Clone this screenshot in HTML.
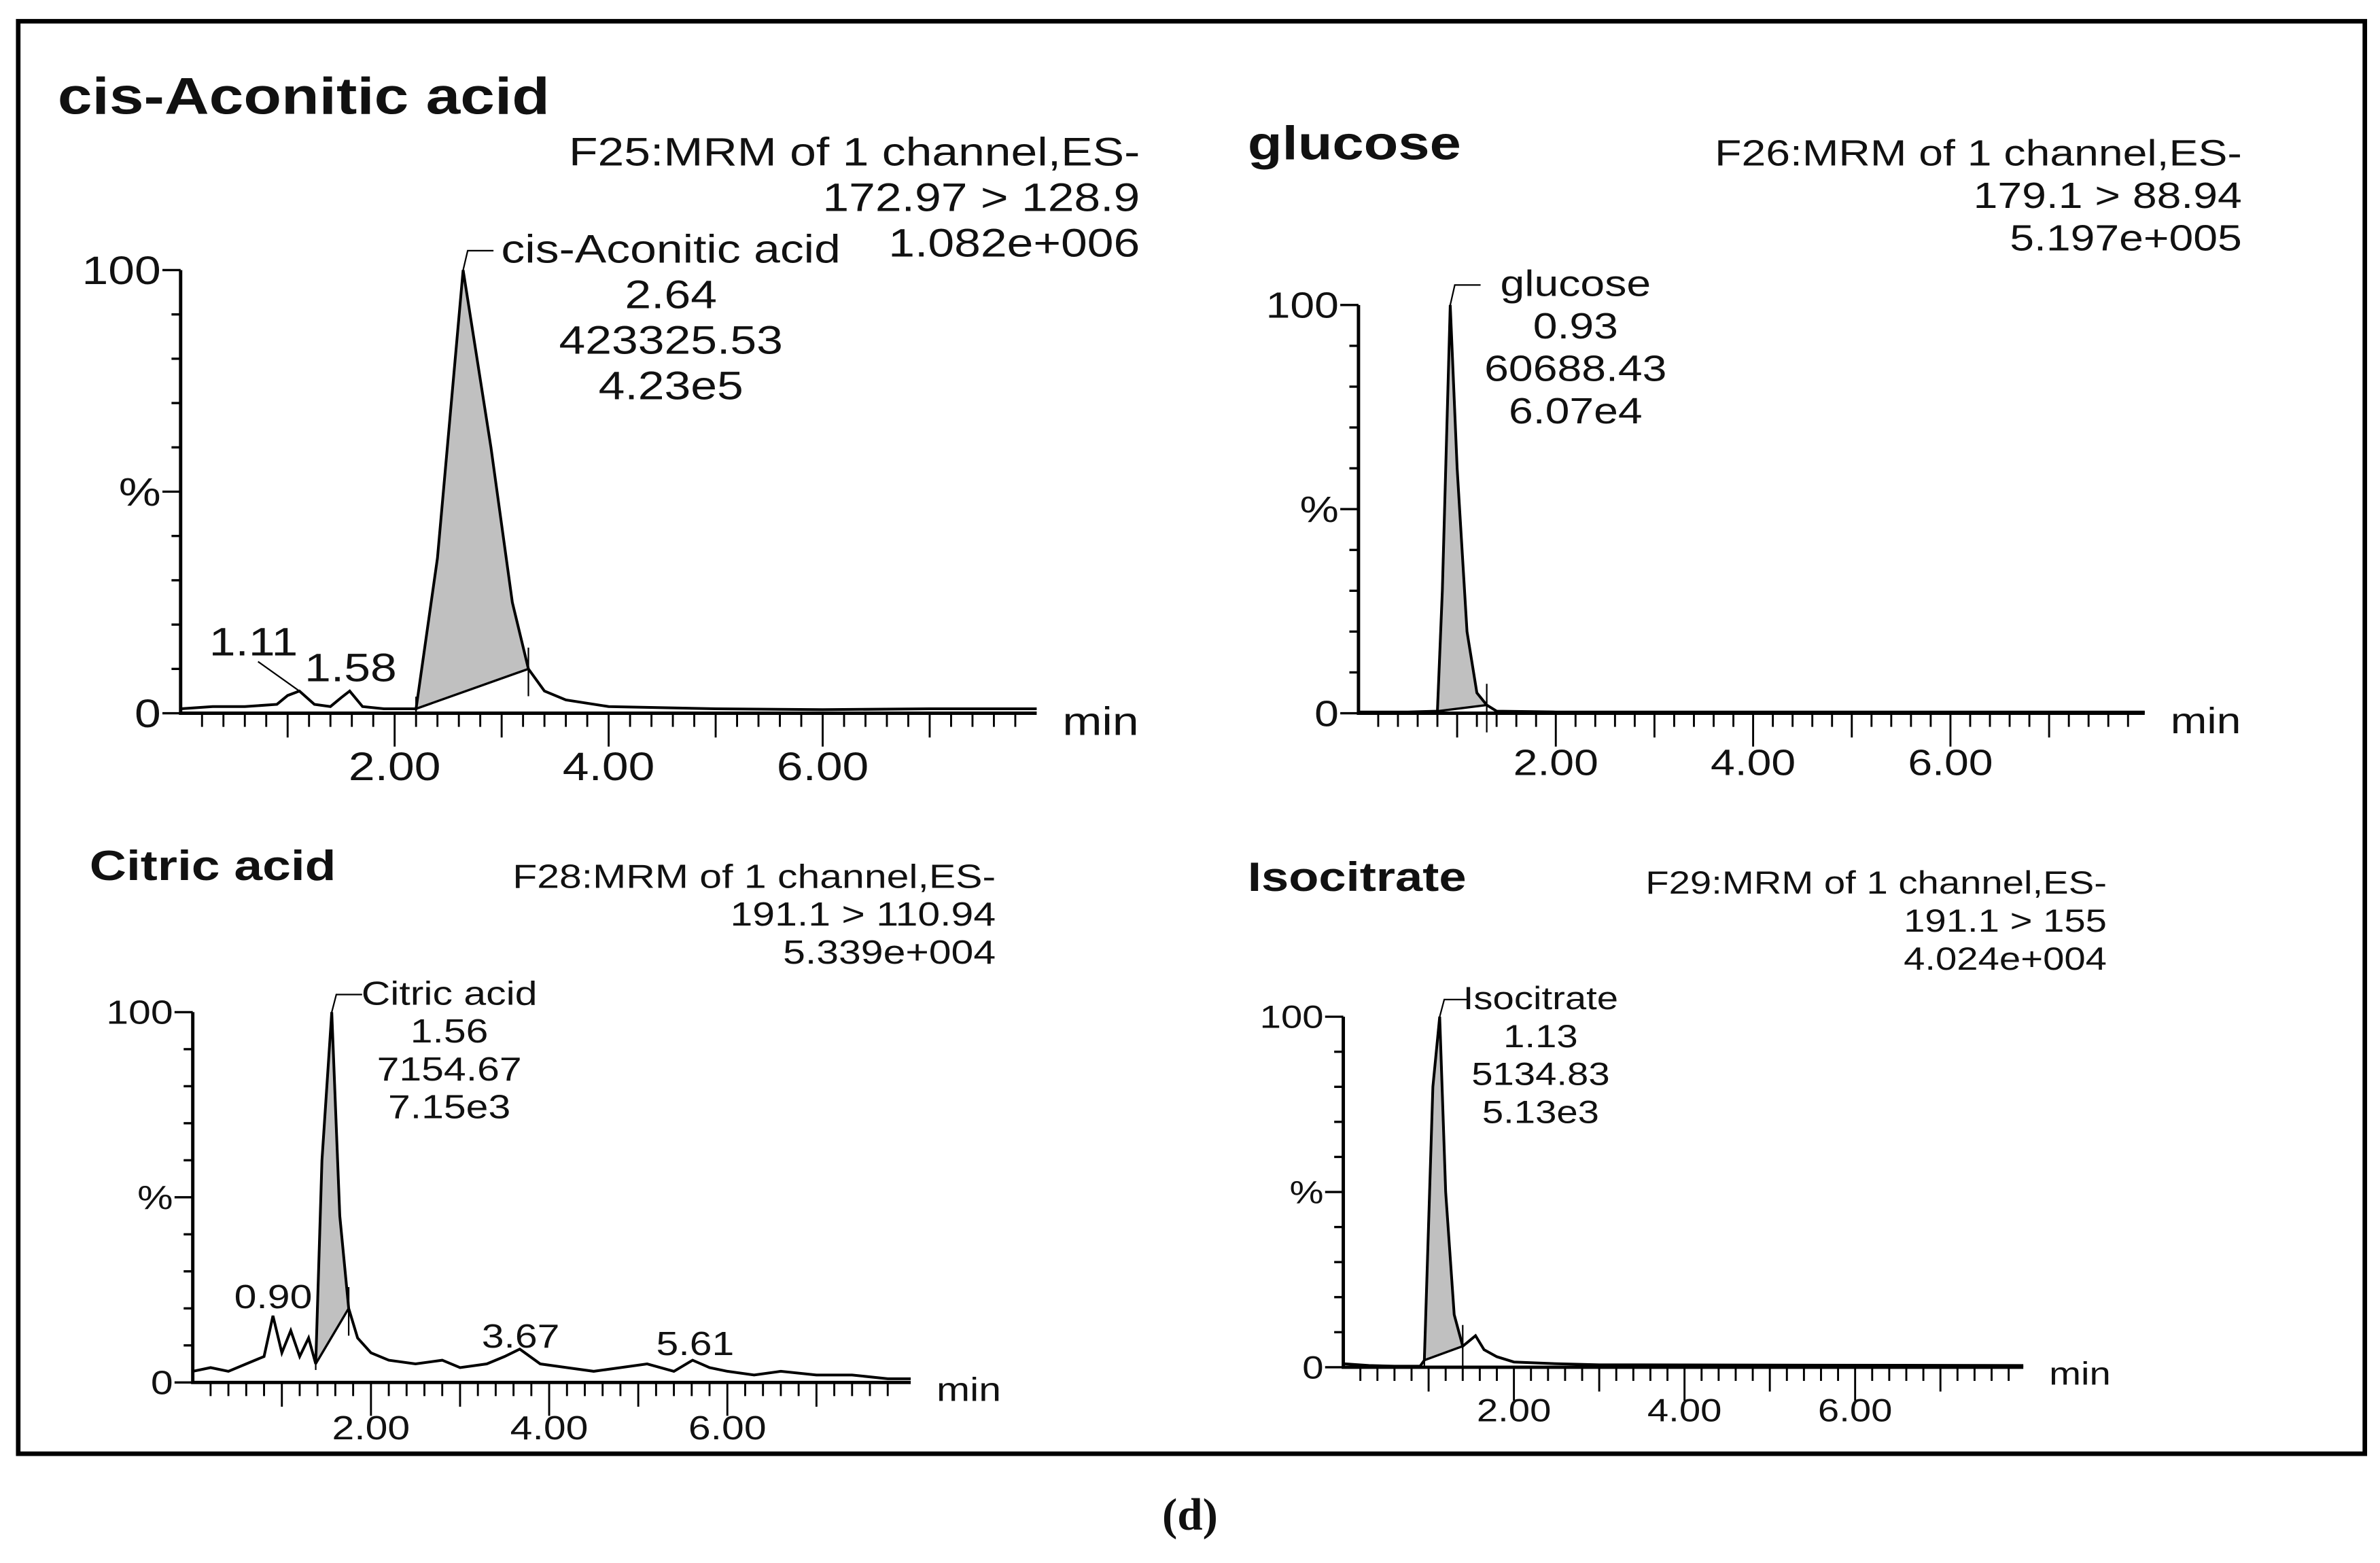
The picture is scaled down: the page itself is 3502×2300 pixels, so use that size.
<!DOCTYPE html>
<html><head><meta charset="utf-8"><style>
html,body{margin:0;padding:0;background:#fff;}
svg{display:block;}
text{font-family:"Liberation Sans",Arial,sans-serif;fill:#111;}
</style></head><body>
<svg id="fig" width="3502" height="2300" viewBox="0 0 1568 1030" preserveAspectRatio="none" xmlns="http://www.w3.org/2000/svg">
<rect x="12" y="14" width="1546" height="944" fill="none" stroke="#000" stroke-width="3"/>
<text x="784" y="1008" text-anchor="middle" style="font-family:'Liberation Serif',serif;font-weight:bold;font-size:30px">(d)</text>
<g id="panels"></g>
</svg>
<script>
// Panel 1: cis-Aconitic acid
const p1Times=[0,0.3,0.6,0.9,1.0,1.11,1.25,1.4,1.5,1.58,1.7,1.9,2.2,2.4,2.64,2.9,3.1,3.25,3.4,3.6,4,5,6,7,8];
const p1Values=[1,1.5,1.5,2,4,5,2,1.5,3.5,5,1.5,1,1,35,100,60,25,10,5,3,1.5,1,0.8,1,1];
// Panel 2: glucose
const p2Times=[0,0.5,0.8,0.85,0.93,1.0,1.1,1.2,1.3,1.4,2,8];
const p2Values=[0.3,0.3,0.5,30,100,60,20,5,2,0.5,0.3,0.3];
// Panel 3: Citric acid
const p3Times=[0,0.2,0.4,0.6,0.8,0.9,1.0,1.1,1.2,1.3,1.38,1.45,1.56,1.65,1.75,1.85,2.0,2.2,2.5,2.8,3.0,3.3,3.5,3.67,3.9,4.2,4.5,4.8,5.1,5.4,5.61,5.8,6.0,6.3,6.6,7.0,7.4,7.8,8.1];
const p3Values=[3,4,3,5,7,18,8,14,7,12,5,60,100,45,20,12,8,6,5,6,4,5,7,9,5,4,3,4,5,3,6,4,3,2,3,2,2,1,1];
// Panel 4: Isocitrate
const p4Times=[0,0.3,0.6,0.9,0.95,1.05,1.13,1.2,1.3,1.4,1.5,1.55,1.65,1.8,2.0,2.5,3,8];
const p4Values=[1,0.5,0.3,0.3,2,80,100,50,15,6,8,9,5,3,1.5,1,0.7,0.5];
const xTickLabels=["2.00","4.00","6.00"];
const xTickValues=[2,4,6];

const SX=1.2;
const panels=[
 {name:'cis-aconitic',title:'cis-Aconitic acid',tx:38,ty:75,tfs:34,x0:119,ppm:70.5,xEnd:683,yTop:178,yBot:470,
  t:p1Times,v:p1Values,shade:[2.2,3.25],fs:26,lh:30,
  info:['F25:MRM of 1 channel,ES-','172.97 > 128.9','1.082e+006'],infoX:751,infoY:139,
  peak:['cis-Aconitic acid','2.64','423325.53','4.23e5'],peakX:442,peakY:173,peakT:2.64,
  small:[['1.11',167,432,1.11,5],['1.58',231,449,null,0]]},
 {name:'glucose',title:'glucose',tx:822,ty:105,tfs:31,x0:895,ppm:65,xEnd:1413,yTop:201,yBot:470,
  t:p2Times,v:p2Values,shade:[0.8,1.3],fs:24,lh:28,
  info:['F26:MRM of 1 channel,ES-','179.1 > 88.94','5.197e+005'],infoX:1477,infoY:137,
  peak:['glucose','0.93','60688.43','6.07e4'],peakX:1038,peakY:195,peakT:0.93,small:[]},
 {name:'citric-acid',title:'Citric acid',tx:59,ty:580,tfs:28,x0:127,ppm:58.7,xEnd:600,yTop:667,yBot:911,
  t:p3Times,v:p3Values,shade:[1.38,1.75],fs:22,lh:25,
  info:['F28:MRM of 1 channel,ES-','191.1 > 110.94','5.339e+004'],infoX:656,infoY:610,
  peak:['Citric acid','1.56','7154.67','7.15e3'],peakX:296,peakY:662,peakT:1.56,
  small:[['0.90',180,862,null,0],['3.67',343,888,null,0],['5.61',458,893,null,0]]},
 {name:'isocitrate',title:'Isocitrate',tx:822,ty:587,tfs:27,x0:885,ppm:56.2,xEnd:1333,yTop:670,yBot:901,
  t:p4Times,v:p4Values,shade:[0.95,1.4],fs:21,lh:25,
  info:['F29:MRM of 1 channel,ES-','191.1 > 155','4.024e+004'],infoX:1388,infoY:614,
  peak:['Isocitrate','1.13','5134.83','5.13e3'],peakX:1015,peakY:665,peakT:1.13,small:[]}
];
const NS='http://www.w3.org/2000/svg';
const root=document.getElementById('panels');
function mk(tag,attrs,parent){const e=document.createElementNS(NS,tag);for(const k in attrs)e.setAttribute(k,attrs[k]);parent.appendChild(e);return e;}
function txt(s,x,y,fs,anchor,parent,weight){const e=mk('text',{x:0,y:0,'font-size':fs,'text-anchor':anchor||'start',transform:'translate('+x+','+y+') scale('+SX+',1)'},parent);if(weight)e.setAttribute('font-weight',weight);e.textContent=s;return e;}
function interp(ts,vs,t){for(let i=0;i<ts.length-1;i++){if(t>=ts[i]&&t<=ts[i+1]){const f=(t-ts[i])/(ts[i+1]-ts[i]);return vs[i]+f*(vs[i+1]-vs[i]);}}return vs[vs.length-1];}
panels.forEach(p=>{
 const g=mk('g',{},root);
 
 
 const X=t=>p.x0+t*p.ppm, Y=v=>p.yBot-(v/100)*(p.yBot-p.yTop);
 const tEnd=(p.xEnd-p.x0)/p.ppm;
 const ti=txt(p.title,p.tx,p.ty,p.tfs,'start',g,'bold');
 
 
 p.info.forEach((s,i)=>{const e=txt(s,p.infoX,p.infoY+(i-1)*p.lh,p.fs,'end',g);
  
  });
 const [s0,s1]=p.shade;
 let pts=[];
 for(let i=0;i<p.t.length;i++){if(p.t[i]>s0&&p.t[i]<s1)pts.push([p.t[i],p.v[i]]);}
 const v0=interp(p.t,p.v,s0),v1=interp(p.t,p.v,s1);
 let d='M'+X(s0)+','+Y(v0);
 pts.forEach(q=>d+=' L'+X(q[0])+','+Y(q[1]));
 d+=' L'+X(s1)+','+Y(v1)+' Z';
 const sh=mk('path',{d:d,fill:'#c0c0c0',stroke:'#000','stroke-width':1.5},g);
 
 
 mk('line',{x1:X(s0),x2:X(s0),y1:Y(v0)-8,y2:Y(v0)+4,stroke:'#000','stroke-width':1},g);
 mk('line',{x1:X(s1),x2:X(s1),y1:Y(v1)-14,y2:Y(v1)+18,stroke:'#000','stroke-width':1},g);
 let td='';
 for(let i=0;i<p.t.length;i++){
  if(p.t[i]>tEnd){td+=' L'+X(tEnd)+','+Y(interp(p.t,p.v,tEnd));break;}
  td+=(i?' L':'M')+X(p.t[i])+','+Y(p.v[i]);}
 const tr=mk('path',{d:td,fill:'none',stroke:'#000','stroke-width':1.8},g);
 
 
 const ax=mk('path',{d:'M'+p.x0+','+p.yTop+' L'+p.x0+','+p.yBot+' L'+p.xEnd+','+p.yBot,fill:'none',stroke:'#000','stroke-width':2.2},g);
 
 
 for(let k=0;k<=10;k++){const y=Y(k*10);const len=(k==0||k==5||k==10)?12:6;
  mk('line',{x1:p.x0-len,x2:p.x0,y1:y,y2:y,stroke:'#000','stroke-width':1.5},g);}
 const fs=p.fs;
 txt('100',p.x0-13,Y(100)+fs*0.35,fs,'end',g);
 txt('%',p.x0-13,Y(50)+fs*0.35,fs,'end',g);
 txt('0',p.x0-13,Y(0)+fs*0.35,fs,'end',g);
 for(let k=1;k*0.2<tEnd-0.08;k++){const t=k*0.2;const major=(k%5==0);
  mk('line',{x1:X(t),x2:X(t),y1:p.yBot,y2:p.yBot+(major?(k%10==0?22:16):9),stroke:'#000','stroke-width':1.3},g);}
 xTickValues.forEach((v,i)=>{const e=txt(xTickLabels[i],X(v),p.yBot+fs*1.7,fs,'middle',g);
  
  });
 const mn=txt('min',p.xEnd+17,p.yBot+fs*0.55,fs,'start',g);
 
 
 const px=X(p.peakT),py=Y(100);
 mk('path',{d:'M'+px+','+py+' L'+(px+3)+','+(p.peakY-p.fs*0.3)+' L'+(px+20)+','+(p.peakY-p.fs*0.3),fill:'none',stroke:'#000','stroke-width':1},g);
 p.peak.forEach((s,i)=>{const e=txt(s,p.peakX,p.peakY+i*p.lh,p.fs,'middle',g);
  
  });
 p.small.forEach(s=>{const e=txt(s[0],s[1],s[2],p.fs,'middle',g);
  
  
  if(s[3]!==null){mk('line',{x1:s[1]+3,y1:s[2]+4,x2:X(s[3]),y2:Y(s[4]),stroke:'#000','stroke-width':1},g);}});
});
</script>
</body></html>
